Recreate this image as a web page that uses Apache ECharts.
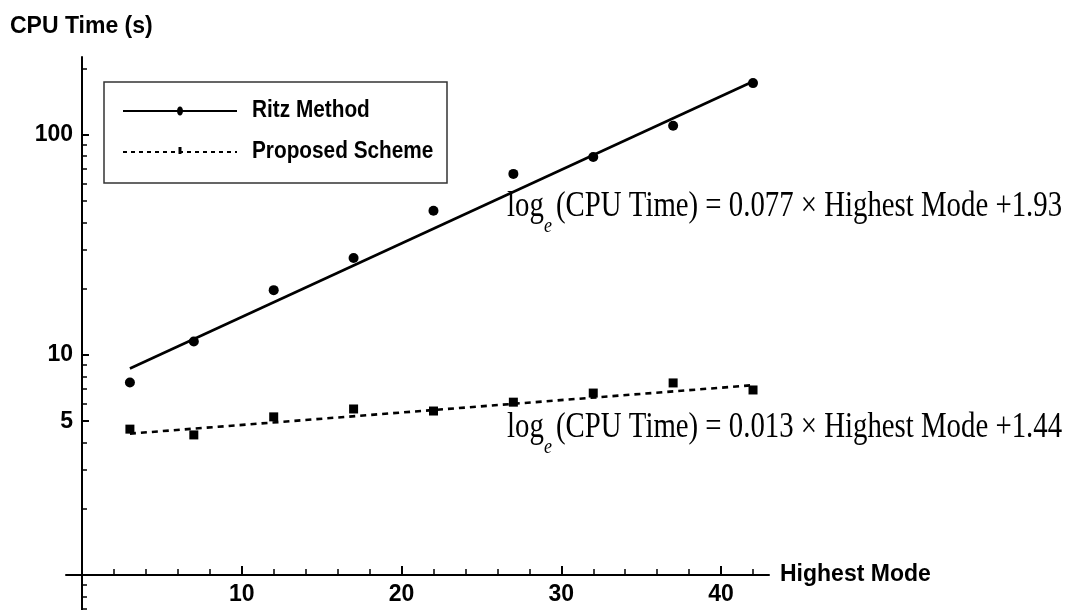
<!DOCTYPE html>
<html>
<head>
<meta charset="utf-8">
<script src="https://cdn.jsdelivr.net/npm/echarts@6/dist/echarts.min.js"></script>
<style>
  html, body { margin: 0; padding: 0; background: #ffffff; }
  #chart { width: 1073px; height: 610px; }
</style>
</head>
<body>
<div id="chart"></div>
<script>
// Highest mode used in each run, and the CPU time (seconds) of each method
const modes = [3, 7, 12, 17, 22, 27, 32, 37, 42];
const ritzTimes = [7.5, 11.5, 19.7, 27.6, 45.2, 66.5, 79.4, 110, 172];
const proposedTimes = [4.6, 4.33, 5.23, 5.68, 5.56, 6.1, 6.71, 7.46, 6.93];

// Least-squares fits: ln(CPU Time) = slope * Highest Mode + intercept
const ritzFit = { slope: 0.077, intercept: 1.93 };
const proposedFit = { slope: 0.013, intercept: 1.44 };
const fitSpan = [3, 42];

// Axis ticks and labels
const xLabelTicks = [10, 20, 30, 40];
const xMinorTicks = [2, 4, 6, 8, 12, 14, 16, 18, 22, 24, 26, 28, 32, 34, 36, 38, 42];
const yLabelTicks = [5, 10, 100];
const yMinorTicks = [0.7, 0.8, 0.9, 2, 3, 4, 6, 7, 8, 9, 20, 30, 40, 50, 60, 70, 80, 90, 200];

const seriesNames = ['Ritz Method', 'Proposed Scheme'];
const eqTexts = [
  '(CPU Time) = 0.077 \u00d7 Highest Mode +1.93',
  '(CPU Time) = 0.013 \u00d7 Highest Mode +1.44'
];

const fitLine = (fit) => fitSpan.map(m => [m, Math.exp(fit.slope * m + fit.intercept)]);

const SANS = '"Liberation Sans", Arial, sans-serif';
const SERIF = '"Liberation Serif", "Times New Roman", serif';

const xRange = { min: -1, max: 43 };
const yRange = { min: 0.693, max: 226 };

const chart = echarts.init(document.getElementById('chart'), null, { renderer: 'canvas' });

function equation(text, baseY) {
  return {
    type: 'group',
    children: [
      { type: 'text', x: 507, y: baseY, scaleY: 1.22,
        style: { text: 'log', font: '28.8px ' + SERIF, fill: '#000', textAlign: 'left', textVerticalAlign: 'middle' } },
      { type: 'text', x: 544, y: baseY + 20, scaleY: 1.15,
        style: { text: 'e', font: 'italic 18px ' + SERIF, fill: '#000', textAlign: 'left', textVerticalAlign: 'middle' } },
      { type: 'text', x: 556, y: baseY, scaleY: 1.22,
        style: { text: text, font: '28.8px ' + SERIF, fill: '#000', textAlign: 'left', textVerticalAlign: 'middle' } }
    ]
  };
}

const option = {
  animation: false,
  backgroundColor: '#ffffff',
  title: {
    text: 'CPU Time (s)',
    left: 10, top: 15, padding: 0,
    textStyle: { fontFamily: SANS, fontWeight: 'bold', fontSize: 23, color: '#000' }
  },
  grid: { left: 66, right: 304, top: 57, bottom: 0, containLabel: false, outerBoundsMode: 'none' },
  xAxis: [
    {
      type: 'value', min: xRange.min, max: xRange.max, offset: -35,
      name: 'Highest Mode', nameLocation: 'end', nameGap: 11,
      nameTextStyle: { fontFamily: SANS, fontWeight: 'bold', fontSize: 23, color: '#000' },
      axisLine: { onZero: false, lineStyle: { color: '#000', width: 2 } },
      axisTick: { inside: true, length: 9, customValues: xLabelTicks, lineStyle: { color: '#000', width: 2 } },
      axisLabel: { customValues: xLabelTicks, margin: 8, fontFamily: SANS, fontWeight: 'bold', fontSize: 23, color: '#000' },
      splitLine: { show: false }
    },
    {
      type: 'value', min: xRange.min, max: xRange.max, offset: -35, position: 'bottom',
      axisLine: { show: false, onZero: false },
      axisTick: { inside: true, length: 6, customValues: xMinorTicks, lineStyle: { color: '#000', width: 1.5 } },
      axisLabel: { show: false },
      splitLine: { show: false }
    }
  ],
  yAxis: [
    {
      type: 'log', logBase: 10, min: yRange.min, max: yRange.max, position: 'left',
      axisLine: { onZero: true, lineStyle: { color: '#000', width: 2 } },
      axisTick: { inside: true, length: 7, customValues: yLabelTicks, lineStyle: { color: '#000', width: 2 } },
      axisLabel: { customValues: yLabelTicks, margin: -7, fontFamily: SANS, fontWeight: 'bold', fontSize: 23, color: '#000' },
      splitLine: { show: false }
    },
    {
      type: 'log', logBase: 10, min: yRange.min, max: yRange.max, position: 'left',
      axisLine: { show: false, onZero: true },
      axisTick: { inside: true, length: 5, customValues: yMinorTicks, lineStyle: { color: '#000', width: 1.5 } },
      axisLabel: { show: false },
      splitLine: { show: false }
    }
  ],
  series: [
    {
      name: seriesNames[0] + ' fit', type: 'line', xAxisIndex: 0, yAxisIndex: 0,
      data: fitLine(ritzFit), showSymbol: false, symbol: 'none',
      lineStyle: { color: '#000', width: 2.6, type: 'solid' }, z: 2
    },
    {
      name: seriesNames[1] + ' fit', type: 'line', xAxisIndex: 0, yAxisIndex: 0,
      data: fitLine(proposedFit), showSymbol: false, symbol: 'none',
      lineStyle: { color: '#000', width: 2.6, type: [6, 5] }, z: 2
    },
    {
      name: seriesNames[0], type: 'scatter', xAxisIndex: 0, yAxisIndex: 0,
      data: modes.map((m, i) => [m, ritzTimes[i]]),
      symbol: 'circle', symbolSize: 10, itemStyle: { color: '#000', opacity: 1 }, z: 3
    },
    {
      name: seriesNames[1], type: 'scatter', xAxisIndex: 0, yAxisIndex: 0,
      data: modes.map((m, i) => [m, proposedTimes[i]]),
      symbol: 'rect', symbolSize: 9, itemStyle: { color: '#000', opacity: 1 }, z: 3
    }
  ],
  graphic: [
    // legend box
    { type: 'rect', shape: { x: 104, y: 82, width: 343, height: 101 },
      style: { fill: 'rgba(0,0,0,0)', stroke: '#333', lineWidth: 1.5 } },
    { type: 'line', shape: { x1: 123, y1: 111, x2: 237, y2: 111 },
      style: { stroke: '#000', lineWidth: 2 } },
    { type: 'ellipse', shape: { cx: 180, cy: 111, rx: 3, ry: 4.5 }, style: { fill: '#000' } },
    { type: 'text', x: 252, y: 111, scaleX: 0.99, scaleY: 1.12,
      style: { text: seriesNames[0], font: 'bold 21px ' + SANS, fill: '#000', textVerticalAlign: 'middle' } },
    { type: 'line', shape: { x1: 123, y1: 152, x2: 237, y2: 152 },
      style: { stroke: '#000', lineWidth: 2, lineDash: [4, 4] } },
    { type: 'rect', shape: { x: 178.5, y: 147, width: 3, height: 7 }, style: { fill: '#000' } },
    { type: 'text', x: 252, y: 152, scaleX: 0.99, scaleY: 1.12,
      style: { text: seriesNames[1], font: 'bold 21px ' + SANS, fill: '#000', textVerticalAlign: 'middle' } },
    equation(eqTexts[0], 207),
    equation(eqTexts[1], 428)
  ]
};

chart.setOption(option);
</script>
</body>
</html>
